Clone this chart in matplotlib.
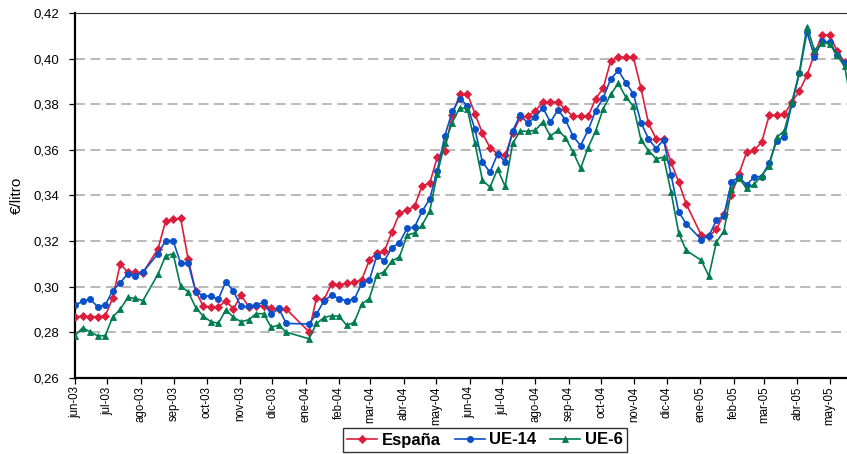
import matplotlib
matplotlib.use("Agg")
import matplotlib.pyplot as plt
import numpy as np
import pandas as pd

plt.rcParams['font.family'] = ['Liberation Sans', 'DejaVu Sans']

nan = np.nan

# Precio semanal (€/litro); nan = semana sin publicación
espana = [
    0.2868, 0.2871, 0.2869, 0.2869, 0.2871, 0.2951, 0.3101, 0.3063, 0.3063, 0.3062,
    nan, 0.3166, 0.3287, 0.3297, 0.3300, 0.3120, 0.2980, 0.2914, 0.2912, 0.2912,
    0.2938, 0.2902, 0.2964, 0.2913, 0.2916, 0.2916, 0.2905, 0.2903, 0.2902, nan,
    nan, 0.2803, 0.2950, 0.2943, 0.3014, 0.3008, 0.3015, 0.3020, 0.3030, 0.3117,
    0.3149, 0.3156, 0.3241, 0.3322, 0.3335, 0.3353, 0.3443, 0.3453, 0.3567, 0.3597,
    0.3755, 0.3843, 0.3846, 0.3759, 0.3672, 0.3610, 0.3582, 0.3576, 0.3672, 0.3743,
    0.3748, 0.3770, 0.3809, 0.3812, 0.3809, 0.3777, 0.3748, 0.3748, 0.3747, 0.3824,
    0.3871, 0.3991, 0.4006, 0.4006, 0.4006, 0.3872, 0.3716, 0.3649, 0.3647, 0.3545,
    0.3459, 0.3363, nan, 0.3226, 0.3222, 0.3251, 0.3321, 0.3404, 0.3495, 0.3590,
    0.3598, 0.3634, 0.3752, 0.3752, 0.3756, 0.3810, 0.3858, 0.3927, 0.4021, 0.4103,
    0.4105, 0.4033, 0.3985, 0.3930,
]

ue14 = [
    0.2919, 0.2936, 0.2945, 0.2913, 0.2919, 0.2983, 0.3017, 0.3058, 0.3048, 0.3064,
    nan, 0.3145, 0.3202, 0.3202, 0.3103, 0.3103, 0.2978, 0.2961, 0.2958, 0.2946,
    0.3023, 0.2980, 0.2914, 0.2914, 0.2921, 0.2931, 0.2880, 0.2905, 0.2839, nan,
    nan, 0.2837, 0.2880, 0.2938, 0.2963, 0.2948, 0.2938, 0.2945, 0.3014, 0.3028,
    0.3136, 0.3114, 0.3172, 0.3193, 0.3256, 0.3262, 0.3331, 0.3384, 0.3509, 0.3660,
    0.3769, 0.3825, 0.3794, 0.3690, 0.3546, 0.3502, 0.3582, 0.3549, 0.3684, 0.3752,
    0.3718, 0.3744, 0.3785, 0.3721, 0.3776, 0.3732, 0.3660, 0.3619, 0.3686, 0.3772,
    0.3828, 0.3911, 0.3948, 0.3894, 0.3846, 0.3720, 0.3649, 0.3606, 0.3644, 0.3489,
    0.3328, 0.3276, nan, 0.3207, 0.3222, 0.3292, 0.3312, 0.3460, 0.3481, 0.3447,
    0.3481, 0.3483, 0.3544, 0.3640, 0.3657, 0.3800, 0.3935, 0.4116, 0.4009, 0.4076,
    0.4072, 0.4018, 0.3980, 0.3930,
]

ue6 = [
    0.2785, 0.2820, 0.2802, 0.2785, 0.2785, 0.2868, 0.2901, 0.2953, 0.2949, 0.2939,
    nan, 0.3055, 0.3135, 0.3145, 0.3002, 0.2978, 0.2909, 0.2871, 0.2847, 0.2840,
    0.2899, 0.2866, 0.2847, 0.2855, 0.2882, 0.2882, 0.2822, 0.2832, 0.2801, nan,
    nan, 0.2772, 0.2839, 0.2865, 0.2873, 0.2871, 0.2831, 0.2844, 0.2924, 0.2948,
    0.3052, 0.3066, 0.3114, 0.3130, 0.3226, 0.3236, 0.3270, 0.3331, 0.3493, 0.3628,
    0.3720, 0.3785, 0.3779, 0.3628, 0.3466, 0.3437, 0.3515, 0.3440, 0.3628, 0.3683,
    0.3681, 0.3686, 0.3722, 0.3660, 0.3686, 0.3654, 0.3591, 0.3519, 0.3610, 0.3683,
    0.3780, 0.3843, 0.3892, 0.3831, 0.3791, 0.3644, 0.3597, 0.3561, 0.3568, 0.3414,
    0.3236, 0.3159, nan, 0.3116, 0.3047, 0.3196, 0.3244, 0.3428, 0.3476, 0.3431,
    0.3449, 0.3487, 0.3531, 0.3655, 0.3684, 0.3810, 0.3941, 0.4140, 0.4036, 0.4069,
    0.4065, 0.4014, 0.3966, 0.3780,
]

semanas = pd.date_range("2003-06-01", periods=len(espana), freq="7D")

etiquetas_meses = [
    "jun-03", "jul-03", "ago-03", "sep-03", "oct-03", "nov-03", "dic-03",
    "ene-04", "feb-04", "mar-04", "abr-04", "may-04", "jun-04", "jul-04",
    "ago-04", "sep-04", "oct-04", "nov-04", "dic-04", "ene-05", "feb-05",
    "mar-05", "abr-05", "may-05",
]
meses = pd.date_range("2003-06-01", periods=len(etiquetas_meses), freq="MS")

valores_y = [0.26, 0.28, 0.30, 0.32, 0.34, 0.36, 0.38, 0.40, 0.42]
etiquetas_y = ["0,26", "0,28", "0,30", "0,32", "0,34", "0,36", "0,38", "0,40", "0,42"]

W, H = 847, 454
fig = plt.figure(figsize=(W / 100, H / 100), dpi=100)
# the plot area runs on past the right edge of the figure
ax = fig.add_axes([75 / W, 76 / H, 788 / W, 365 / H])

series = [
    ("España", espana, "#dc1e3c", "D", 3.8),
    ("UE-14", ue14, "#0a50c8", "o", 4.4),
    ("UE-6", ue6, "#007d50", "^", 5.0),
]

handles = []
for nombre, valores, color, marca, tam in series:
    v = np.array(valores, dtype=float)
    ok = ~np.isnan(v)
    ln, = ax.plot(semanas[ok], v[ok], color=color, lw=1.2, marker=marca,
                  markersize=tam, markeredgewidth=0.6, markeredgecolor=color,
                  markerfacecolor=color, label=nombre, zorder=3)
    handles.append(ln)

ax.set_xlim(pd.Timestamp("2003-06-01"), pd.Timestamp("2005-06-01"))
ax.set_ylim(0.26, 0.42)

ax.set_yticks(valores_y)
ax.set_yticklabels(etiquetas_y, fontsize=9.5)
ax.set_xticks(meses)
ax.set_xticklabels(etiquetas_meses, rotation=90, fontsize=8.3)
ax.tick_params(axis="both", direction="out", length=4, width=0.9, color="black")
ax.tick_params(axis="x", pad=2)
ax.tick_params(axis="y", pad=7)

ax.yaxis.grid(True, color="#a6a6a6", lw=1.1, linestyle=(0, (6.5, 3.6)))
ax.set_axisbelow(True)

for s in ["left", "bottom"]:
    ax.spines[s].set_linewidth(1.6)
    ax.spines[s].set_color("black")
ax.spines["top"].set_linewidth(0.8)
ax.spines["top"].set_color("#303030")
ax.spines["right"].set_visible(False)

ax.set_ylabel("€/litro", fontsize=11, labelpad=7)

leg = fig.legend(handles=handles, loc="center", ncol=3,
                 bbox_to_anchor=(485 / W, 1 - 440 / H),
                 prop={"weight": "bold", "size": 12},
                 frameon=True, fancybox=False, edgecolor="black",
                 handlelength=1.8, handletextpad=0.3, columnspacing=0.8,
                 borderpad=0.25, borderaxespad=0)
leg.get_frame().set_linewidth(1.0)

fig.savefig("out.png", dpi=100)
